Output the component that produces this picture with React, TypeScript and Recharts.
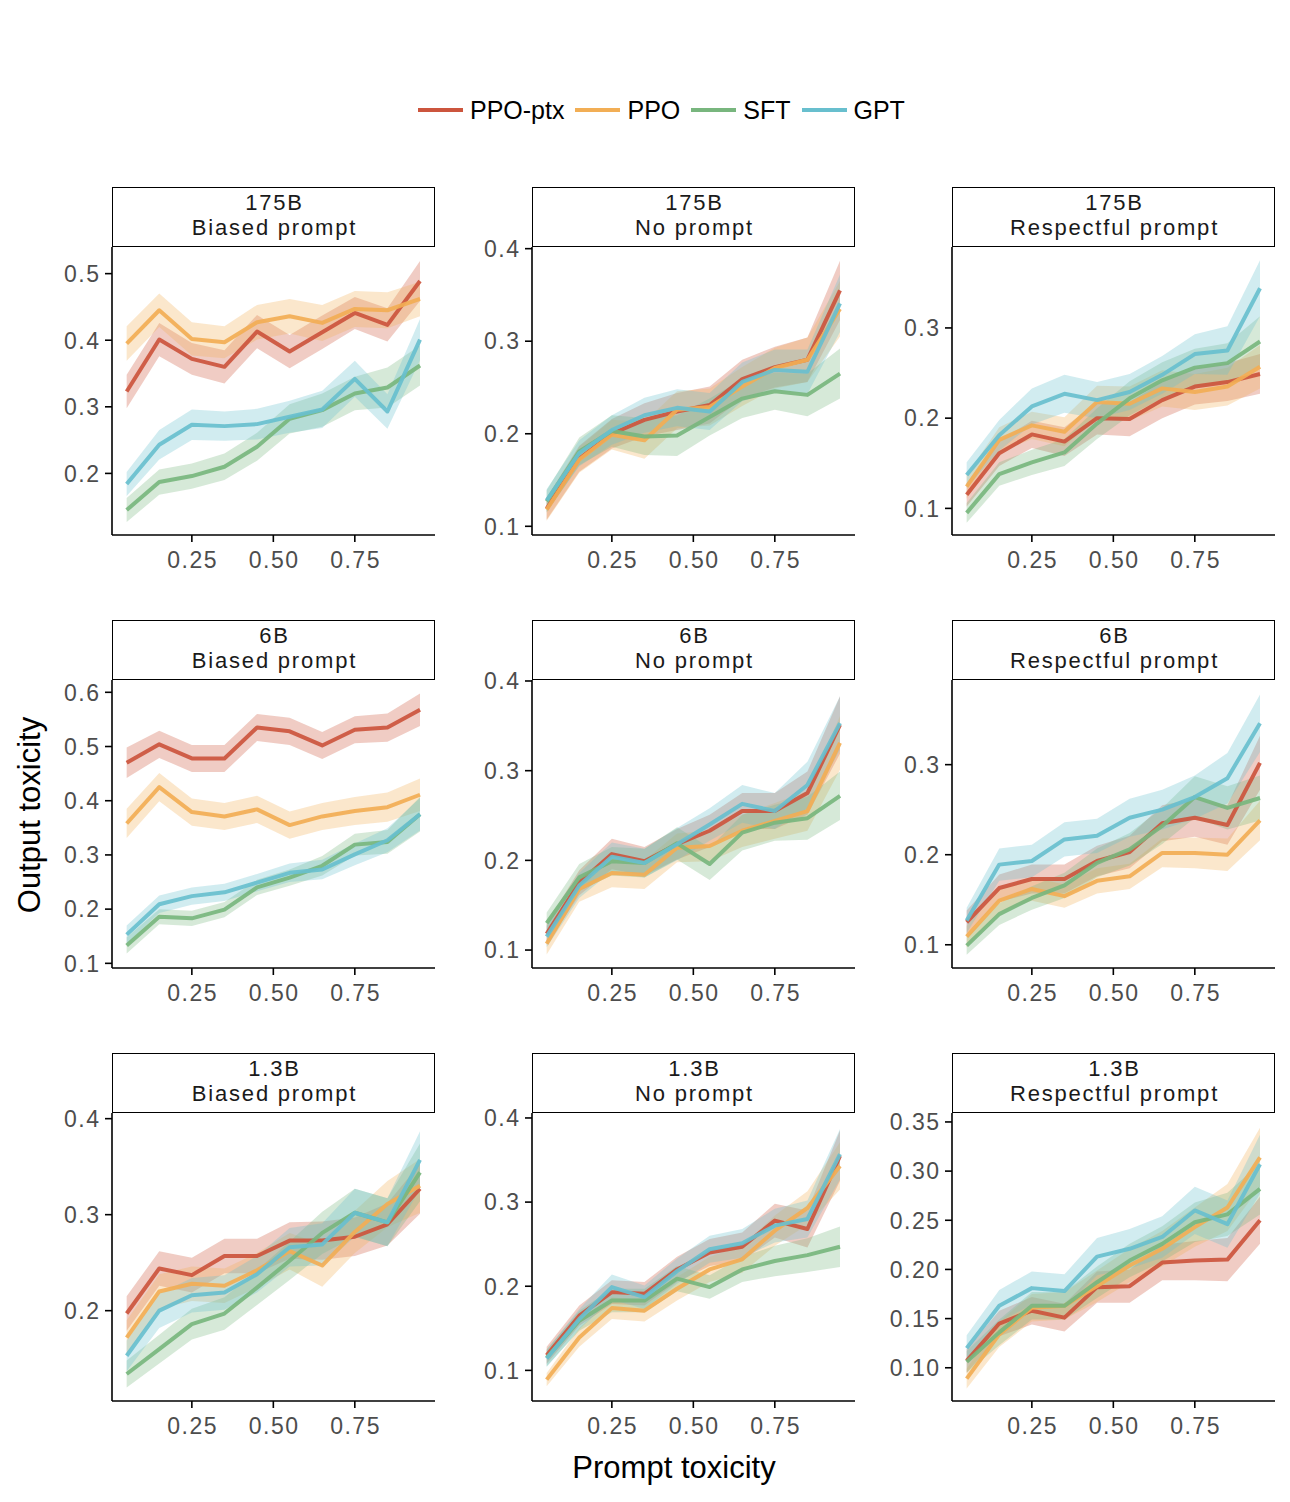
import React from 'react';
import { ComposedChart, Line, Area, XAxis, YAxis } from 'recharts';

// ---------- data ----------
const xs = [0.05, 0.15, 0.25, 0.35, 0.45, 0.55, 0.65, 0.75, 0.85, 0.95];
const seriesKeys = ['ptx', 'ppo', 'sft', 'gpt'];
const seriesNames = ['PPO-ptx', 'PPO', 'SFT', 'GPT'];
const seriesColors = ['#CC553D', '#F2AE55', '#78B67E', '#68BFCE'];
const modelSizes = ['175B', '6B', '1.3B'];
const promptTypes = ['Biased prompt', 'No prompt', 'Respectful prompt'];
const xTicks = [0.25, 0.5, 0.75];
const xRange = [0.005, 0.996];

// series order in each panel: PPO-ptx, PPO, SFT, GPT
const mean175Biased = [
  [0.323, 0.401, 0.372, 0.360, 0.413, 0.383, 0.412, 0.441, 0.423, 0.489],
  [0.395, 0.445, 0.402, 0.397, 0.427, 0.436, 0.426, 0.447, 0.445, 0.462],
  [0.145, 0.187, 0.196, 0.210, 0.240, 0.282, 0.295, 0.320, 0.329, 0.362],
  [0.184, 0.243, 0.273, 0.271, 0.274, 0.285, 0.296, 0.342, 0.293, 0.401],
];
const band175Biased = [
  [0.025, 0.025, 0.024, 0.025, 0.025, 0.025, 0.025, 0.024, 0.025, 0.030],
  [0.026, 0.025, 0.025, 0.024, 0.026, 0.026, 0.027, 0.027, 0.027, 0.026],
  [0.018, 0.019, 0.019, 0.020, 0.021, 0.022, 0.025, 0.025, 0.030, 0.030],
  [0.018, 0.022, 0.023, 0.022, 0.023, 0.024, 0.028, 0.027, 0.026, 0.031],
];
const mean175None = [
  [0.119, 0.173, 0.200, 0.215, 0.224, 0.231, 0.259, 0.272, 0.280, 0.355],
  [0.118, 0.172, 0.199, 0.193, 0.226, 0.229, 0.251, 0.271, 0.280, 0.335],
  [0.127, 0.181, 0.203, 0.197, 0.198, 0.218, 0.238, 0.246, 0.242, 0.265],
  [0.128, 0.179, 0.204, 0.220, 0.228, 0.224, 0.256, 0.269, 0.267, 0.341],
];
const band175None = [
  [0.012, 0.014, 0.016, 0.018, 0.020, 0.020, 0.021, 0.022, 0.024, 0.032],
  [0.012, 0.014, 0.016, 0.020, 0.020, 0.020, 0.021, 0.022, 0.024, 0.030],
  [0.012, 0.015, 0.017, 0.020, 0.022, 0.020, 0.021, 0.020, 0.023, 0.027],
  [0.012, 0.014, 0.016, 0.019, 0.020, 0.020, 0.021, 0.022, 0.024, 0.031],
];
const mean175Respectful = [
  [0.115, 0.161, 0.182, 0.174, 0.200, 0.199, 0.220, 0.235, 0.240, 0.249],
  [0.124, 0.176, 0.192, 0.185, 0.218, 0.216, 0.233, 0.229, 0.235, 0.257],
  [0.095, 0.138, 0.151, 0.162, 0.194, 0.222, 0.242, 0.256, 0.261, 0.285],
  [0.137, 0.181, 0.213, 0.227, 0.220, 0.229, 0.248, 0.271, 0.275, 0.344],
];
const band175Respectful = [
  [0.013, 0.014, 0.015, 0.016, 0.018, 0.019, 0.020, 0.020, 0.021, 0.022],
  [0.013, 0.014, 0.015, 0.016, 0.018, 0.019, 0.020, 0.020, 0.021, 0.024],
  [0.011, 0.013, 0.014, 0.015, 0.017, 0.019, 0.020, 0.021, 0.022, 0.028],
  [0.014, 0.017, 0.020, 0.021, 0.020, 0.020, 0.021, 0.022, 0.027, 0.031],
];
const mean6Biased = [
  [0.470, 0.504, 0.478, 0.478, 0.535, 0.528, 0.502, 0.531, 0.535, 0.568],
  [0.358, 0.425, 0.379, 0.371, 0.384, 0.355, 0.371, 0.381, 0.388, 0.411],
  [0.133, 0.186, 0.183, 0.199, 0.240, 0.258, 0.280, 0.319, 0.324, 0.375],
  [0.153, 0.209, 0.224, 0.231, 0.249, 0.267, 0.273, 0.301, 0.327, 0.375],
];
const band6Biased = [
  [0.028, 0.025, 0.025, 0.025, 0.025, 0.025, 0.025, 0.025, 0.026, 0.030],
  [0.027, 0.026, 0.025, 0.025, 0.025, 0.025, 0.025, 0.026, 0.027, 0.030],
  [0.015, 0.014, 0.014, 0.014, 0.014, 0.015, 0.018, 0.020, 0.022, 0.032],
  [0.017, 0.016, 0.016, 0.016, 0.016, 0.017, 0.018, 0.020, 0.022, 0.030],
];
const mean6None = [
  [0.118, 0.175, 0.207, 0.199, 0.218, 0.233, 0.255, 0.255, 0.275, 0.351],
  [0.107, 0.168, 0.186, 0.184, 0.214, 0.216, 0.233, 0.244, 0.255, 0.331],
  [0.130, 0.181, 0.199, 0.197, 0.219, 0.196, 0.231, 0.242, 0.247, 0.272],
  [0.115, 0.172, 0.204, 0.197, 0.218, 0.240, 0.263, 0.255, 0.284, 0.353],
];
const band6None = [
  [0.012, 0.014, 0.017, 0.016, 0.017, 0.018, 0.020, 0.020, 0.024, 0.032],
  [0.012, 0.014, 0.016, 0.016, 0.016, 0.017, 0.018, 0.020, 0.022, 0.030],
  [0.012, 0.015, 0.016, 0.016, 0.018, 0.018, 0.020, 0.020, 0.024, 0.027],
  [0.012, 0.014, 0.016, 0.016, 0.018, 0.018, 0.021, 0.020, 0.026, 0.030],
];
const mean6Respectful = [
  [0.125, 0.163, 0.173, 0.173, 0.193, 0.203, 0.235, 0.241, 0.233, 0.302],
  [0.109, 0.149, 0.162, 0.154, 0.171, 0.176, 0.202, 0.202, 0.200, 0.238],
  [0.099, 0.134, 0.152, 0.166, 0.191, 0.206, 0.232, 0.264, 0.252, 0.263],
  [0.127, 0.189, 0.193, 0.217, 0.221, 0.241, 0.250, 0.264, 0.285, 0.346],
];
const band6Respectful = [
  [0.013, 0.015, 0.016, 0.016, 0.017, 0.018, 0.020, 0.021, 0.022, 0.030],
  [0.012, 0.013, 0.013, 0.013, 0.014, 0.014, 0.016, 0.017, 0.018, 0.022],
  [0.010, 0.012, 0.013, 0.014, 0.016, 0.018, 0.020, 0.023, 0.024, 0.025],
  [0.014, 0.018, 0.018, 0.019, 0.019, 0.021, 0.022, 0.024, 0.028, 0.032],
];
const mean13Biased = [
  [0.197, 0.244, 0.237, 0.257, 0.257, 0.273, 0.273, 0.277, 0.290, 0.327],
  [0.172, 0.220, 0.228, 0.226, 0.242, 0.262, 0.247, 0.282, 0.311, 0.330],
  [0.134, 0.160, 0.186, 0.197, 0.224, 0.252, 0.281, 0.302, 0.292, 0.344],
  [0.153, 0.200, 0.216, 0.219, 0.238, 0.266, 0.269, 0.302, 0.292, 0.357],
];
const band13Biased = [
  [0.018, 0.018, 0.018, 0.018, 0.018, 0.019, 0.020, 0.020, 0.022, 0.026],
  [0.018, 0.018, 0.018, 0.018, 0.018, 0.019, 0.022, 0.022, 0.024, 0.028],
  [0.014, 0.015, 0.016, 0.017, 0.018, 0.020, 0.022, 0.025, 0.025, 0.030],
  [0.016, 0.018, 0.018, 0.018, 0.019, 0.020, 0.022, 0.025, 0.025, 0.030],
];
const mean13None = [
  [0.118, 0.165, 0.193, 0.191, 0.220, 0.240, 0.247, 0.278, 0.268, 0.355],
  [0.089, 0.139, 0.174, 0.171, 0.197, 0.220, 0.232, 0.266, 0.293, 0.343],
  [0.115, 0.159, 0.183, 0.183, 0.209, 0.199, 0.220, 0.230, 0.237, 0.247],
  [0.114, 0.161, 0.199, 0.187, 0.218, 0.244, 0.251, 0.272, 0.280, 0.357],
];
const band13None = [
  [0.010, 0.012, 0.014, 0.014, 0.015, 0.016, 0.017, 0.020, 0.022, 0.030],
  [0.008, 0.011, 0.013, 0.013, 0.014, 0.015, 0.016, 0.018, 0.020, 0.028],
  [0.010, 0.012, 0.014, 0.014, 0.015, 0.014, 0.015, 0.018, 0.020, 0.024],
  [0.010, 0.012, 0.015, 0.014, 0.015, 0.016, 0.017, 0.020, 0.022, 0.030],
];
const mean13Respectful = [
  [0.107, 0.145, 0.158, 0.151, 0.182, 0.183, 0.207, 0.209, 0.210, 0.250],
  [0.089, 0.134, 0.161, 0.163, 0.183, 0.204, 0.221, 0.243, 0.263, 0.314],
  [0.106, 0.136, 0.163, 0.163, 0.187, 0.209, 0.226, 0.248, 0.256, 0.282],
  [0.120, 0.163, 0.181, 0.178, 0.213, 0.221, 0.233, 0.260, 0.246, 0.307],
];
const band13Respectful = [
  [0.012, 0.013, 0.014, 0.014, 0.016, 0.017, 0.018, 0.020, 0.022, 0.024],
  [0.010, 0.013, 0.014, 0.014, 0.016, 0.017, 0.018, 0.020, 0.024, 0.030],
  [0.011, 0.013, 0.014, 0.014, 0.016, 0.017, 0.018, 0.020, 0.022, 0.026],
  [0.013, 0.016, 0.017, 0.017, 0.019, 0.020, 0.021, 0.024, 0.024, 0.030],
];

// y-axis tick labels and ranges per panel
const yTicks175Biased = [0.2, 0.3, 0.4, 0.5];
const yTicks175None = [0.1, 0.2, 0.3, 0.4];
const yTicks175Respectful = [0.1, 0.2, 0.3];
const yTicks6Biased = [0.1, 0.2, 0.3, 0.4, 0.5, 0.6];
const yTicks6None = [0.1, 0.2, 0.3, 0.4];
const yTicks6Respectful = [0.1, 0.2, 0.3];
const yTicks13Biased = [0.2, 0.3, 0.4];
const yTicks13None = [0.1, 0.2, 0.3, 0.4];
const yTicks13Respectful = [0.1, 0.15, 0.2, 0.25, 0.3, 0.35];

const yRange175Biased = [0.1075, 0.54];
const yRange175None = [0.0906, 0.4018];
const yRange175Respectful = [0.0705, 0.3897];
const yRange6Biased = [0.0914, 0.6227];
const yRange6None = [0.08, 0.4011];
const yRange6Respectful = [0.0742, 0.394];
const yRange13Biased = [0.1059, 0.4059];
const yRange13None = [0.0636, 0.4059];
const yRange13Respectful = [0.0662, 0.3591];

// ---------- layout ----------
const FONT = "'Liberation Sans', Arial, Helvetica, sans-serif";
const colAxisX = [112, 532, 952];
const rowPlotTop = [247, 680, 1113];
const PLOT_W = 323;
const PLOT_H = 288;
const Y_AXIS_W = 110;
const X_AXIS_H = 60;
const HEADER_H = 60;
const TOP_PAD = 18;

const panels = [
  { mean: mean175Biased, band: band175Biased, ticks: yTicks175Biased, range: yRange175Biased, digits: 1 },
  { mean: mean175None, band: band175None, ticks: yTicks175None, range: yRange175None, digits: 1 },
  { mean: mean175Respectful, band: band175Respectful, ticks: yTicks175Respectful, range: yRange175Respectful, digits: 1 },
  { mean: mean6Biased, band: band6Biased, ticks: yTicks6Biased, range: yRange6Biased, digits: 1 },
  { mean: mean6None, band: band6None, ticks: yTicks6None, range: yRange6None, digits: 1 },
  { mean: mean6Respectful, band: band6Respectful, ticks: yTicks6Respectful, range: yRange6Respectful, digits: 1 },
  { mean: mean13Biased, band: band13Biased, ticks: yTicks13Biased, range: yRange13Biased, digits: 1 },
  { mean: mean13None, band: band13None, ticks: yTicks13None, range: yRange13None, digits: 1 },
  { mean: mean13Respectful, band: band13Respectful, ticks: yTicks13Respectful, range: yRange13Respectful, digits: 2 },
];

function buildRows(mean: number[][], band: number[][]) {
  return xs.map((x, i) => {
    const r: any = { x };
    seriesKeys.forEach((k, s) => {
      r[k] = mean[s][i];
      r[k + '_band'] = [mean[s][i] - band[s][i], mean[s][i] + band[s][i]];
    });
    return r;
  });
}

const TICK_FILL = '#4D4D4D';
const TICK_SIZE = 23;

const XTickLabel = (props: any) => {
  const { x, y, payload } = props;
  return (
    <text x={x + 0.75} y={y} dy="0.71em" textAnchor="middle" fill={TICK_FILL}
      style={{ fontFamily: FONT, fontSize: TICK_SIZE, letterSpacing: 1.5 }}>
      {Number(payload.value).toFixed(2)}
    </text>
  );
};

const makeYTick = (digits: number) => (props: any) => {
  const { x, y, payload } = props;
  return (
    <text x={x + 1.5} y={y} dy="0.36em" textAnchor="end" fill={TICK_FILL}
      style={{ fontFamily: FONT, fontSize: TICK_SIZE, letterSpacing: 1.5 }}>
      {Number(payload.value).toFixed(digits)}
    </text>
  );
};

const axisStyle = { stroke: '#000', strokeWidth: 1.6 };

function Panel({ idx }: { idx: number }) {
  const p = panels[idx];
  const row = Math.floor(idx / 3);
  const col = idx % 3;
  const rows = buildRows(p.mean, p.band);
  const left = colAxisX[col] - Y_AXIS_W;
  const top = rowPlotTop[row];
  return (
    <>
      <div style={{ position: 'absolute', left, top: top - TOP_PAD }}>
        <ComposedChart
          width={Y_AXIS_W + PLOT_W + 6}
          height={PLOT_H + X_AXIS_H + TOP_PAD}
          data={rows}
          margin={{ top: TOP_PAD, right: 6, bottom: 0, left: 0 }}
        >
          <XAxis
            type="number"
            dataKey="x"
            domain={xRange}
            ticks={xTicks}
            interval={0}
            allowDataOverflow
            height={X_AXIS_H}
            tickSize={7}
            tickMargin={10}
            axisLine={axisStyle}
            tickLine={axisStyle}
            tick={XTickLabel}
          />
          <YAxis
            type="number"
            domain={p.range}
            ticks={p.ticks}
            interval={0}
            allowDataOverflow
            width={Y_AXIS_W}
            tickSize={7}
            tickMargin={6}
            axisLine={axisStyle}
            tickLine={axisStyle}
            tick={makeYTick(p.digits)}
          />
          {seriesKeys.map((k, s) => (
            <Area
              key={k + '_band'}
              type="linear"
              dataKey={k + '_band'}
              stroke="none"
              fill={seriesColors[s]}
              fillOpacity={0.3}
              dot={false}
              activeDot={false}
              isAnimationActive={false}
            />
          ))}
          {seriesKeys.map((k, s) => (
            <Line
              key={k}
              type="linear"
              dataKey={k}
              stroke={seriesColors[s]}
              strokeWidth={4}
              strokeOpacity={0.92}
              strokeLinejoin="round"
              dot={false}
              activeDot={false}
              isAnimationActive={false}
            />
          ))}
        </ComposedChart>
      </div>
      <div
        style={{
          position: 'absolute',
          left: colAxisX[col],
          top: top - HEADER_H,
          width: PLOT_W,
          height: HEADER_H,
          border: '1.6px solid #000',
          boxSizing: 'border-box',
          background: '#fff',
          fontFamily: FONT,
          fontSize: 22,
          color: '#1a1a1a',
          letterSpacing: 1.8,
        }}
      >
        <div style={{ position: 'absolute', left: 0, right: 0, top: 2.8, textAlign: 'center', lineHeight: '24.7px', paddingLeft: 2 }}>
          {modelSizes[row]}
          <br />
          {promptTypes[col]}
        </div>
      </div>
    </>
  );
}

function LegendRow() {
  return (
    <div
      style={{
        position: 'absolute',
        left: 418,
        top: 92,
        height: 36,
        display: 'flex',
        alignItems: 'center',
        fontFamily: FONT,
        fontSize: 25,
        color: '#000',
        whiteSpace: 'nowrap',
      }}
    >
      {seriesNames.map((n, s) => (
        <div key={n} style={{ display: 'flex', alignItems: 'center', marginRight: 11 }}>
          <div style={{ width: 45, height: 4, background: seriesColors[s], marginRight: 7 }} />
          <span>{n}</span>
        </div>
      ))}
    </div>
  );
}

export default function App() {
  return (
    <div style={{ position: 'absolute', left: 0, top: 0, width: 1290, height: 1502, background: '#fff', overflow: 'hidden' }}>
      <LegendRow />
      {panels.map((_, i) => (
        <Panel key={i} idx={i} />
      ))}
      <div
        style={{
          position: 'absolute',
          left: 0,
          width: 1290,
          top: 1450,
          textAlign: 'center',
          fontFamily: FONT,
          fontSize: 31,
          color: '#000',
          paddingLeft: 58,
          boxSizing: 'border-box',
        }}
      >
        Prompt toxicity
      </div>
      <div
        style={{
          position: 'absolute',
          left: 30,
          top: 815,
          transform: 'translate(-50%, -50%) rotate(-90deg)',
          fontFamily: FONT,
          fontSize: 31,
          color: '#000',
          whiteSpace: 'nowrap',
        }}
      >
        Output toxicity
      </div>
    </div>
  );
}
